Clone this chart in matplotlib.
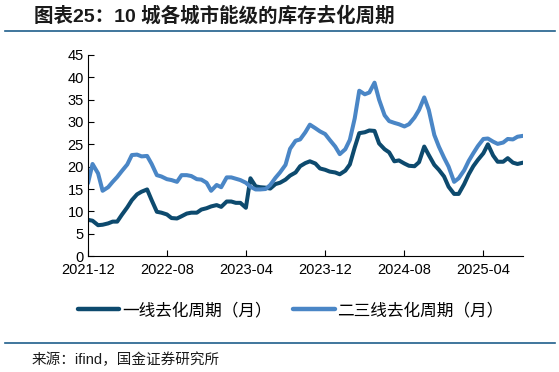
import pandas as pd
import matplotlib as mpl
import matplotlib.pyplot as plt
import matplotlib.dates as mdates
from matplotlib.lines import Line2D

mpl.rcParams['font.family'] = ['Liberation Sans', 'Noto Sans CJK SC']
mpl.rcParams['axes.unicode_minus'] = False

# semi-monthly observations, 2021-12 .. 2025-08
dates = pd.date_range('2021-12-01', periods=89, freq='SMS')

tier1 = [8.1, 7.9, 6.9, 7.0, 7.3, 7.7, 7.7, 9.2, 10.9, 12.5,
         13.8, 14.4, 14.9, 12.5, 9.9, 9.7, 9.3, 8.5, 8.4, 8.9,
         9.5, 9.7, 9.7, 10.4, 10.7, 11.1, 11.4, 11.0, 12.2, 12.2,
         11.9, 11.9, 10.8, 17.4, 15.6, 15.4, 15.3, 15.1, 16.1, 16.4,
         17.1, 18.0, 18.7, 20.1, 20.8, 21.2, 20.7, 19.6, 19.3, 18.9,
         18.7, 18.3, 19.1, 20.5, 24.3, 27.5, 27.7, 28.1, 28.0, 25.2,
         23.9, 23.2, 21.2, 21.4, 20.7, 20.2, 20.1, 21.0, 24.5, 22.6,
         20.4, 19.3, 17.8, 15.5, 13.9, 13.9, 16.1, 18.3, 20.1, 21.5,
         23.0, 25.0, 22.5, 21.1, 21.1, 21.9, 20.9, 20.6, 20.9]

tier23 = [16.3, 20.6, 18.5, 14.6, 15.4, 16.6, 17.7, 19.0, 20.5, 22.6,
          22.7, 22.3, 22.4, 20.6, 18.1, 17.8, 17.2, 17.0, 16.6, 18.1,
          18.1, 17.9, 17.2, 17.1, 16.4, 14.6, 15.9, 15.4, 17.6, 17.6,
          17.3, 17.0, 16.4, 15.5, 14.9, 14.9, 15.0, 15.9, 17.5, 18.7,
          20.4, 24.0, 25.8, 26.1, 27.7, 29.4, 28.6, 27.9, 27.3, 26.0,
          24.5, 22.8, 23.9, 26.0, 30.8, 37.0, 36.2, 36.6, 38.8, 35.0,
          31.5, 30.2, 29.8, 29.5, 29.0, 29.5, 31.0, 32.7, 35.5, 32.7,
          27.1, 24.5, 22.0, 20.0, 16.6, 17.4, 19.2, 21.3, 23.0, 24.6,
          26.2, 26.3, 25.6, 25.1, 25.4, 26.2, 26.1, 26.7, 26.9]

labels = ['一线去化周期（月）', '二三线去化周期（月）']
tick_months = ['2021-12', '2022-08', '2023-04', '2023-12', '2024-08', '2025-04']

c_dark = '#0d4a6e'
c_light = '#4a86c6'
c_rule = '#1f5f8b'

fig = plt.figure(figsize=(5.59, 3.72), dpi=100)
ax = fig.add_axes([0.1574, 0.3118, 0.7782, 0.5404])

ax.plot(dates, tier1, color=c_dark, lw=2.9, solid_capstyle='round',
        solid_joinstyle='round', label=labels[0])
ax.plot(dates, tier23, color=c_light, lw=2.9, solid_capstyle='round',
        solid_joinstyle='round', label=labels[1])

ax.set_ylim(0, 45)
ax.set_yticks(range(0, 46, 5))
ax.set_xlim(pd.Timestamp('2021-12-01'), pd.Timestamp('2025-08-01'))
ax.set_xticks([pd.Timestamp(t + '-01') for t in tick_months])
ax.xaxis.set_major_formatter(mdates.DateFormatter('%Y-%m'))
ax.tick_params(direction='in', length=4, width=0.8, labelsize=10.5,
               colors='black')
ax.tick_params(axis='y', pad=3)
ax.tick_params(axis='x', pad=5)
for s in ['top', 'right']:
    ax.spines[s].set_visible(False)
for s in ['left', 'bottom']:
    ax.spines[s].set_linewidth(0.8)

handles = [Line2D([], [], color=c_dark, lw=3.2, solid_capstyle='round'),
           Line2D([], [], color=c_light, lw=3.2, solid_capstyle='round')]
fig.legend(handles, labels, loc='center', bbox_to_anchor=(0.52, 0.166),
           ncol=2, frameon=False, fontsize=12, handlelength=2.5,
           handletextpad=0.15, columnspacing=1.3)

fig.text(0.061, 0.957, '图表25：10 城各城市能级的库存去化周期',
         fontsize=14, fontweight='bold', color='#1a1a1a', va='center')
fig.add_artist(Line2D([0.009, 0.993], [0.917, 0.917], color=c_rule, lw=1.2))
fig.add_artist(Line2D([0.009, 0.993], [0.078, 0.078], color=c_rule, lw=1.2))
fig.text(0.057, 0.034, '来源：ifind，国金证券研究所', fontsize=10.5,
         color='#1a1a1a', va='center')

fig.savefig('out.png', dpi=100)
